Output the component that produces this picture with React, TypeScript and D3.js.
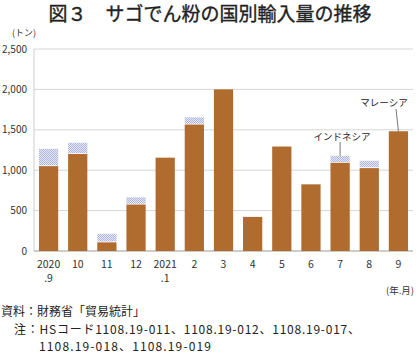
import * as d3 from 'd3';

const months = ['2020\n.9', '10', '11', '12', '2021\n.1', '2', '3', '4', '5', '6', '7', '8', '9'];
const malaysia = [1050, 1200, 107, 575, 1155, 1565, 2000, 422, 1293, 825, 1092, 1026, 1482];
const indonesia = [215, 140, 106, 90, 0, 90, 0, 0, 0, 0, 86, 91, 0];
const yTicks = [0, 500, 1000, 1500, 2000, 2500];

const W = 420;
const H = 355;
const margin = { top: 49, right: 7, bottom: 104, left: 34 };

const App = () => {
  const x = d3.scaleBand<number>()
    .domain(d3.range(months.length))
    .range([margin.left, W - margin.right])
    .paddingInner(0.34)
    .paddingOuter(0.17);

  const y = d3.scaleLinear()
    .domain([0, 2500])
    .range([H - margin.bottom, margin.top]);

  const fmt = d3.format(',');
  const font = "'Noto Sans CJK JP', 'Noto Sans', sans-serif";
  const cx = (i: number) => (x(i) ?? 0) + x.bandwidth() / 2;

  return (
    <svg width={W} height={H} style={{ position: 'absolute', left: 0, top: 0, background: '#fff' }} fontFamily={font}>
      <defs>
        <pattern id="indo" width={2} height={2} patternUnits="userSpaceOnUse">
          <rect width={2} height={2} fill="#e6e8f6" />
          <rect width={1} height={1} fill="#b0b5df" />
          <rect x={1} y={1} width={1} height={1} fill="#b0b5df" />
        </pattern>
      </defs>

      {/* title */}
      <text x={210} y={21} textAnchor="middle" fontSize={19} fontWeight={400}
        fill="#222" stroke="#222" strokeWidth={0.35}>
        図３　サゴでん粉の国別輸入量の推移
      </text>

      {/* unit */}
      <text x={12} y={36} fontSize={9} fill="#333">(トン)</text>

      {/* grid */}
      {yTicks.map(t => (
        <g key={t}>
          <line x1={margin.left} x2={W - margin.right} y1={y(t)} y2={y(t)}
            stroke={t === 0 ? '#bbb' : '#d6d6d6'} strokeWidth={t === 0 ? 1.5 : 1} />
          <text x={27} y={y(t) + 3.5} textAnchor="end" fontSize={10} fill="#333">{fmt(t)}</text>
        </g>
      ))}
      <line x1={margin.left} x2={margin.left} y1={y(2500)} y2={y(0)} stroke="#ccc" strokeWidth={1} />

      {/* bars */}
      {months.map((m, i) => (
        <g key={i}>
          <rect x={x(i)} width={x.bandwidth()} y={y(malaysia[i])}
            height={y(0) - y(malaysia[i])} fill="#b06b2f" />
          {indonesia[i] > 0 && (
            <rect x={x(i)} width={x.bandwidth()} y={y(malaysia[i] + indonesia[i])}
              height={y(malaysia[i]) - y(malaysia[i] + indonesia[i]) - 0.8} fill="url(#indo)" />
          )}
          {m.split('\n').map((s, k) => (
            <text key={k} x={cx(i)} y={268 + k * 14}
              textAnchor="middle" fontSize={10.5} fill="#333">{s}</text>
          ))}
        </g>
      ))}

      {/* annotations */}
      <line x1={cx(10)} x2={cx(10)} y1={142} y2={y(malaysia[10] + indonesia[10])}
        stroke="#555" strokeWidth={0.8} />
      <text x={342} y={140} textAnchor="middle" fontSize={9.5} fill="#222">インドネシア</text>
      <line x1={396} x2={cx(12)} y1={109} y2={y(malaysia[12])} stroke="#555" strokeWidth={0.8} />
      <text x={384} y={106} textAnchor="middle" fontSize={9.5} fill="#222">マレーシア</text>

      <text x={414} y={294} textAnchor="end" fontSize={9.5} fill="#333">(年.月)</text>

      {/* footer */}
      <text x={1} y={316} fontSize={12} fill="#222">資料：財務省「貿易統計」</text>
      <text x={14} y={333.5} fontSize={12} fill="#222" textLength={346} lengthAdjust="spacing">
        注：HSコード1108.19-011、1108.19-012、1108.19-017、
      </text>
      <text x={39} y={351} fontSize={12} fill="#222" textLength={172} lengthAdjust="spacing">
        1108.19-018、1108.19-019
      </text>
    </svg>
  );
};

export default App;
